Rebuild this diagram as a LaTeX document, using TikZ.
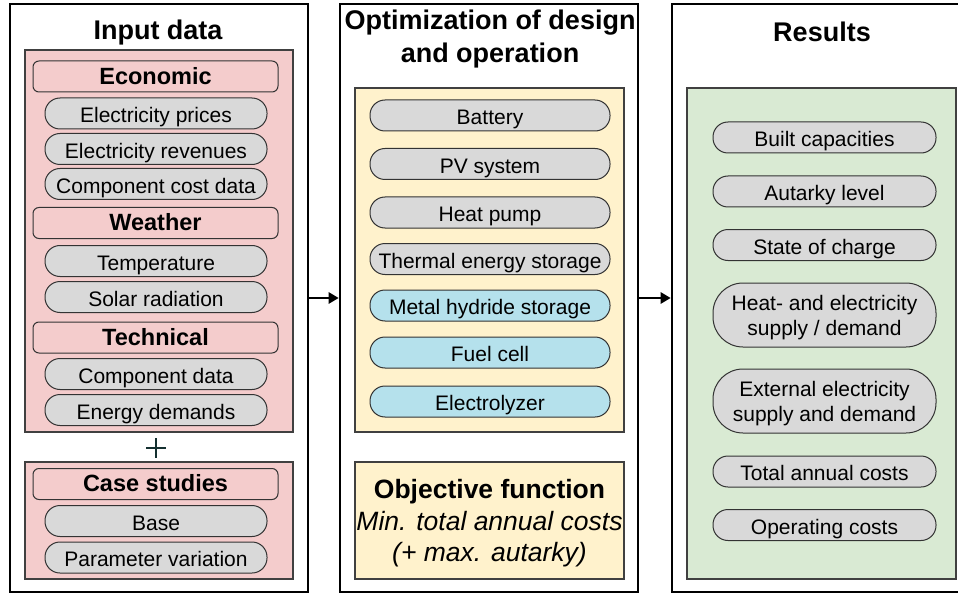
\documentclass[tikz,border=0pt]{standalone}
\usepackage{fontspec}
\setmainfont{Liberation Sans}
\usetikzlibrary{arrows.meta}
\definecolor{pinkf}{HTML}{F4CCCC}
\definecolor{yellowf}{HTML}{FFF2CC}
\definecolor{greenf}{HTML}{D9EAD3}
\definecolor{grayf}{HTML}{D9D9D9}
\definecolor{bluef}{HTML}{B5E1EC}
\definecolor{plusc}{HTML}{143030}
\begin{document}
\begin{tikzpicture}[x=1pt,y=-1pt,
  outer/.style={draw=black,line width=2.6pt,fill=white,inner sep=0pt},
  panel/.style={draw=black!75,line width=1.1pt,inner sep=0pt},
  hdr/.style={draw=black!80,line width=1pt,fill=pinkf,rounded corners=6pt,minimum width=245pt,minimum height=31pt,inner sep=0pt,text height=15.8pt,text depth=0pt,font=\fontsize{23.5}{28}\selectfont\bfseries},
  pill/.style={draw=black!80,line width=1pt,fill=grayf,rounded corners=15pt,minimum height=31pt,inner sep=0pt,text height=18.6pt,text depth=0pt,font=\fontsize{21}{25}\selectfont,align=center},
  lpill/.style={pill,minimum width=222pt},
  mpill/.style={pill,minimum width=240pt},
  rpill/.style={pill,minimum width=223pt},
  tpill/.style={rpill,minimum height=64pt,rounded corners=30pt,text height=45pt,text depth=5pt},
  ttl/.style={inner sep=0pt,anchor=base,font=\fontsize{27}{33}\selectfont\bfseries,align=center},
  arr/.style={line width=2.6pt,-{Triangle[length=10pt,width=11pt]}}
]
\clip (0,0) rectangle (958,596);
\fill[white] (0,0) rectangle (958,596);

% outer boxes
\node[outer,minimum width=298pt,minimum height=588pt] (leftbox) at (159,298) {};
\node[outer,minimum width=298pt,minimum height=588pt] (midbox) at (489,298) {};
\node[outer,minimum width=298pt,minimum height=588pt] (rightbox) at (821,298) {};

% titles
\node[ttl] (t1) at (158,39.5) {Input data};
\node[ttl] (t2) at (490,63) {Optimization of design\\and operation};
\node[ttl] (t3) at (822,41.5) {Results};

% left panels
\node[panel,fill=pinkf,minimum width=268pt,minimum height=382pt] (pk1) at (159,241) {};
\node[panel,fill=pinkf,minimum width=268pt,minimum height=117pt] (pk2) at (159,520.5) {};

\node[hdr] (h1) at (155.5,76.5) {Economic};
\node[lpill] (p1) at (156,113.5) {Electricity prices};
\node[lpill] (p2) at (156,149) {Electricity revenues};
\node[lpill] (p3) at (156,184) {Component cost data};
\node[hdr] (h2) at (155.5,223) {Weather};
\node[lpill] (p4) at (156,261) {Temperature};
\node[lpill] (p5) at (156,297) {Solar radiation};
\node[hdr] (h3) at (155.5,337.5) {Technical};
\node[lpill] (p6) at (156,374) {Component data};
\node[lpill] (p7) at (156,410) {Energy demands};
\node[hdr] (h4) at (155.5,484) {Case studies};
\node[lpill] (p8) at (156,521) {Base};
\node[lpill] (p9) at (156,557.5) {Parameter variation};

% plus
\draw[plusc,line width=2pt] (146,448) -- (166,448) (156,438) -- (156,458);

% middle panels
\node[panel,fill=yellowf,minimum width=269pt,minimum height=344pt] (yp) at (489.5,260) {};
\node[mpill] (m1) at (490,115.5) {Battery};
\node[mpill] (m2) at (490,164) {PV system};
\node[mpill] (m3) at (490,212.5) {Heat pump};
\node[mpill] (m4) at (490,259) {Thermal energy storage};
\node[mpill,fill=bluef] (m5) at (490,305.5) {Metal hydride storage};
\node[mpill,fill=bluef] (m6) at (490,352.5) {Fuel cell};
\node[mpill,fill=bluef] (m7) at (490,401.5) {Electrolyzer};
\node[panel,fill=yellowf,minimum width=269pt,minimum height=117pt,align=center,text height=90pt,text depth=7.6pt,font=\fontsize{26.5}{31.7}\selectfont] (obj) at (489.5,520.5)
  {{\bfseries Objective function}\\{\itshape Min. total annual costs}\\{\itshape (+ max. autarky)}};

% right panel
\node[panel,fill=greenf,minimum width=269pt,minimum height=491pt] (gp) at (821.5,333.5) {};
\node[rpill] (r1) at (824.5,137.5) {Built capacities};
\node[rpill] (r2) at (824.5,191.5) {Autarky level};
\node[rpill] (r3) at (824.5,245) {State of charge};
\node[tpill] (r4) at (824.5,315) {Heat- and electricity\\supply / demand};
\node[tpill] (r5) at (824.5,401) {External electricity\\supply and demand};
\node[rpill] (r6) at (824.5,471.5) {Total annual costs};
\node[rpill] (r7) at (824.5,525) {Operating costs};

% arrows
\draw[arr] (leftbox.east) -- (midbox.west);
\draw[arr] (midbox.east) -- (rightbox.west);
\end{tikzpicture}
\end{document}
